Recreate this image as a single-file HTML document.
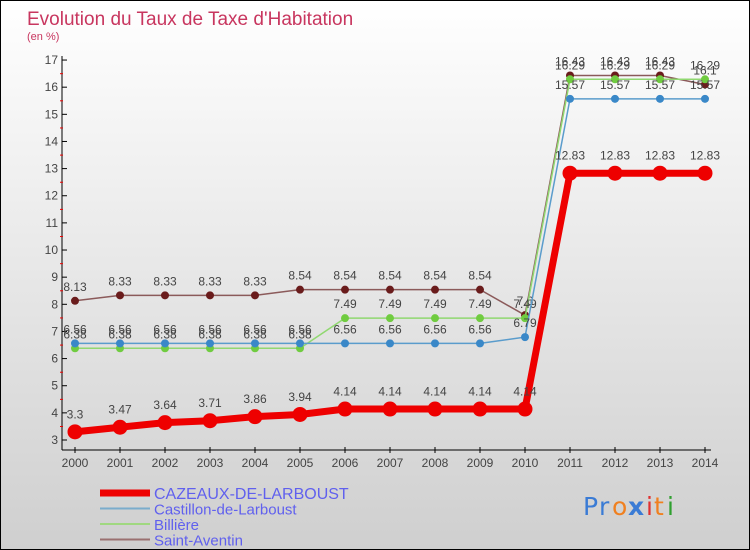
<!DOCTYPE html>
<html><head><meta charset="utf-8"><style>
html,body{margin:0;padding:0}
body{width:750px;height:550px;overflow:hidden;font-family:"Liberation Sans",sans-serif}
#wrap{position:relative;width:748px;height:548px;border:1px solid #000;background:linear-gradient(#ffffff,#cfcfcf)}
svg{position:absolute;left:0;top:0}
</style></head><body>
<div id="wrap">
<svg id="chart" width="748" height="548">
<text x="26" y="24" font-size="19" fill="#c8365f">Evolution du Taux de Taxe d'Habitation</text>
<text x="26" y="39" font-size="11" fill="#c8365f">(en %)</text>
<g id="axes"></g><g id="series"></g><g id="legend"></g>
<g font-size="25" font-family="'DejaVu Sans',sans-serif">
<text x="582" y="514" fill="#3a7bd5">P</text><text x="598" y="514" fill="#3a7bd5">r</text><text x="611" y="514" fill="#f08020">o</text><text x="627" y="514" fill="#3a7bd5" font-weight="bold">x</text><text x="645" y="514" fill="#e03030">i</text><text x="653" y="514" fill="#f08020">t</text><text x="666" y="514" fill="#30a030">i</text>
</g>
</svg>
</div>
<script>
const years=[2000,2001,2002,2003,2004,2005,2006,2007,2008,2009,2010,2011,2012,2013,2014];
const yTicks=[3,4,5,6,7,8,9,10,11,12,13,14,15,16,17];
const cazeaux=[3.3,3.47,3.64,3.71,3.86,3.94,4.14,4.14,4.14,4.14,4.14,12.83,12.83,12.83,12.83];
const castillon=[6.56,6.56,6.56,6.56,6.56,6.56,6.56,6.56,6.56,6.56,6.79,15.57,15.57,15.57,15.57];
const billiere=[6.38,6.38,6.38,6.38,6.38,6.38,7.49,7.49,7.49,7.49,7.49,16.29,16.29,16.29,16.29];
const saintAventin=[8.13,8.33,8.33,8.33,8.33,8.54,8.54,8.54,8.54,8.54,7.6,16.43,16.43,16.43,16.1];
const seriesNames=["CAZEAUX-DE-LARBOUST","Castillon-de-Larboust","Billière","Saint-Aventin"];
const NS="http://www.w3.org/2000/svg";
function xS(i){return 74+i*45;}
function yS(v){return 439-(v-3)*27.14;}
function mk(tag,attrs,parent,txt){const e=document.createElementNS(NS,tag);for(const k in attrs)e.setAttribute(k,attrs[k]);if(txt!==undefined)e.textContent=txt;parent.appendChild(e);return e;}
const axes=document.getElementById('axes');
let yl=mk('line',{x1:61,y1:55,x2:61,y2:449,stroke:'#000'},axes);


let xl=mk('line',{x1:61,y1:449,x2:710,y2:449,stroke:'#000'},axes);


yTicks.forEach(v=>{
  const y=yS(v);
  mk('line',{x1:61,y1:y,x2:66,y2:y,stroke:'#000'},axes);
  if(v<17) mk('line',{x1:59,y1:y-13.5,x2:62,y2:y-13.5,stroke:'#e00'},axes);
  const t=mk('text',{x:57,y:y+4,'font-size':12,fill:'#444','text-anchor':'end'},axes,v);
  
  
});
years.forEach((yr,i)=>{
  const x=xS(i);
  mk('line',{x1:x,y1:446,x2:x,y2:452,stroke:'#000'},axes);
  const t=mk('text',{x:x,y:466,'font-size':12,fill:'#444','text-anchor':'middle'},axes,yr);
  
  
});
const sg=document.getElementById('series');
const defs=[
 {d:saintAventin,c:'#8b5a5a',m:'#6a1c1c',w:1.5,r:4,n:'saint-aventin'},
 {d:billiere,c:'#90d870',m:'#70cc40',w:1.5,r:4,n:'billiere'},
 {d:castillon,c:'#5a9ccc',m:'#3a88c8',w:1.5,r:4,n:'castillon-de-larboust'},
 {d:cazeaux,c:'#ee0000',m:'#ee0000',w:7,r:7.5,n:'cazeaux-de-larboust'}
];
defs.forEach(s=>{
  const g=mk('g',{},sg);
  
  
  const pts=s.d.map((v,i)=>xS(i)+','+yS(v)).join(' ');
  const pl=mk('polyline',{points:pts,fill:'none',stroke:s.c,'stroke-width':s.w},g);
  
  
  s.d.forEach((v,i)=>{
    const c=mk('circle',{cx:xS(i),cy:yS(v),r:s.r,fill:s.m},g);
    
    
    const t=mk('text',{x:xS(i),y:yS(v)-(s.r+6),'font-size':12,fill:'#444','text-anchor':'middle'},g,v);
    
    
  });
});
const lg=document.getElementById('legend');
const lcol=['#ee0000','#7aaccc','#a0d880','#9a7070'];
const lw=[7,2,2,2];
seriesNames.forEach((n,i)=>{
  const y=492+i*15.5;
  const g=mk('g',{},lg);
  
  
  mk('line',{x1:99,y1:y,x2:149,y2:y,stroke:lcol[i],'stroke-width':lw[i]},g);
  mk('text',{x:153,y:y+6,'font-size':i==0?16:15,fill:'#6060ee'},g,n);
});
</script>
</body></html>
